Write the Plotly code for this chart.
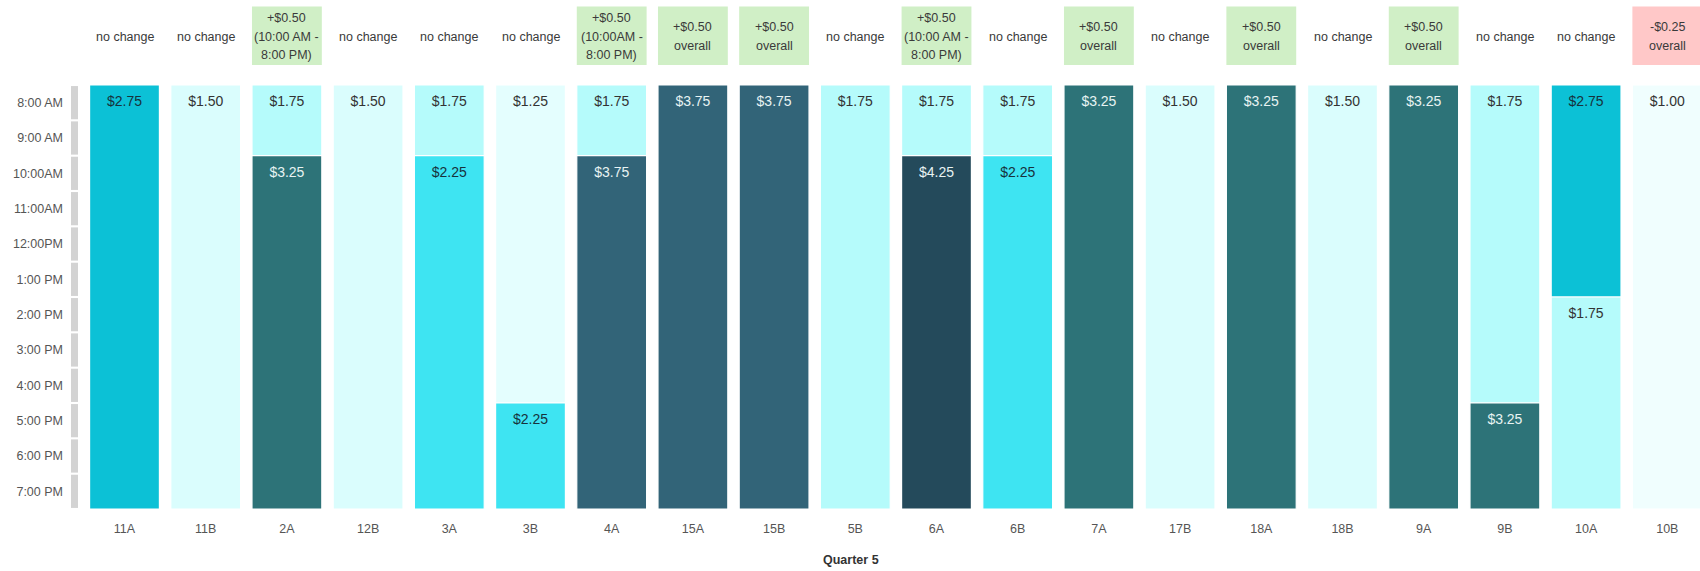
import plotly.graph_objects as go

# Stalls along the bottom axis
stalls = ['11A', '11B', '2A', '12B', '3A', '3B', '4A', '15A', '15B', '5B',
          '6A', '6B', '7A', '17B', '18A', '18B', '9A', '9B', '10A', '10B']

# Rate change note per stall (lines of the header) and its kind
change_text = [
    ['no change'], ['no change'], ['+$0.50', '(10:00 AM -', '8:00 PM)'], ['no change'],
    ['no change'], ['no change'], ['+$0.50', '(10:00AM -', '8:00 PM)'], ['+$0.50', 'overall'],
    ['+$0.50', 'overall'], ['no change'], ['+$0.50', '(10:00 AM -', '8:00 PM)'], ['no change'],
    ['+$0.50', 'overall'], ['no change'], ['+$0.50', 'overall'], ['no change'],
    ['+$0.50', 'overall'], ['no change'], ['no change'], ['-$0.25', 'overall'],
]
change_kind = ['none', 'none', 'up', 'none', 'none', 'none', 'up', 'up', 'up', 'none',
               'up', 'none', 'up', 'none', 'up', 'none', 'up', 'none', 'none', 'down']

# Hourly rate segments: stall, start hour, end hour, price
seg_stall = ['11A', '11B', '2A', '2A', '12B', '3A', '3A', '3B', '3B', '4A', '4A', '15A', '15B', '5B',
             '6A', '6A', '6B', '6B', '7A', '17B', '18A', '18B', '9A', '9B', '9B', '10A', '10A', '10B']
seg_start = [8, 8, 8, 10, 8, 8, 10, 8, 17, 8, 10, 8, 8, 8,
             8, 10, 8, 10, 8, 8, 8, 8, 8, 8, 17, 8, 14, 8]
seg_end = [20, 20, 10, 20, 20, 10, 20, 17, 20, 10, 20, 20, 20, 20,
           10, 20, 10, 20, 20, 20, 20, 20, 20, 17, 20, 14, 20, 20]
seg_price = [2.75, 1.50, 1.75, 3.25, 1.50, 1.75, 2.25, 1.25, 2.25, 1.75, 3.75, 3.75, 3.75, 1.75,
             1.75, 4.25, 1.75, 2.25, 3.25, 1.50, 3.25, 1.50, 3.25, 1.75, 3.25, 2.75, 1.75, 1.00]

# Hour rows on the vertical axis
hours = list(range(8, 20))
hour_labels = ['8:00 AM', '9:00 AM', '10:00AM', '11:00AM', '12:00PM', '1:00 PM',
               '2:00 PM', '3:00 PM', '4:00 PM', '5:00 PM', '6:00 PM', '7:00 PM']

price_color = {1.00: '#f0fefe', 1.25: '#e4fefe', 1.50: '#dafdfd', 1.75: '#b5fbfb',
               2.25: '#3ee4f2', 2.75: '#0cc1d6', 3.25: '#2d7378', 3.75: '#326478',
               4.25: '#244a5b'}


def label_color(p):
    if p >= 3.25:
        return '#e8f3f3'
    if p >= 2.25:
        return '#17323c'
    return '#333333'


FONT = 'Liberation Sans, Arial, sans-serif'
idx = {s: i for i, s in enumerate(stalls)}
xpos = [idx[s] for s in seg_stall]

fig = go.Figure()

fig.add_trace(go.Bar(
    x=xpos,
    y=[e - s for s, e in zip(seg_start, seg_end)],
    base=seg_start,
    width=0.86,
    marker=dict(color=[price_color[p] for p in seg_price],
                line=dict(color='white', width=1.2)),
    hoverinfo='skip',
    showlegend=False,
))

fig.add_trace(go.Scatter(
    x=xpos,
    y=[s + 0.5 for s in seg_start],
    mode='text',
    text=[f'${p:.2f}' for p in seg_price],
    textfont=dict(family=FONT, size=14, color=[label_color(p) for p in seg_price]),
    textposition='middle center',
    hoverinfo='skip',
    showlegend=False,
    cliponaxis=False,
))

# Plot area spans pixels 80..1700 horizontally and 85..509 vertically
plot_h = 424.0
plot_w = 1620.0


def py_to_paper(py):
    return (509.0 - py) / plot_h


def px_to_paper(px):
    return (px - 80.0) / plot_w


shapes = []
annotations = []

# Header boxes and change notes
box_fill = {'up': '#d0efc6', 'down': '#ffc8c8'}
for i, (lines, kind) in enumerate(zip(change_text, change_kind)):
    if kind in box_fill:
        shapes.append(dict(type='rect', xref='x', yref='paper',
                           x0=i - 0.43, x1=i + 0.43,
                           y0=py_to_paper(65), y1=py_to_paper(6.5),
                           fillcolor=box_fill[kind], line=dict(width=0), layer='below'))
    n = len(lines)
    for k, line in enumerate(lines):
        cy = 36.5 + (k - (n - 1) / 2) * 18.5
        annotations.append(dict(x=i, y=py_to_paper(cy), xref='x', yref='paper',
                                text=line, showarrow=False, xanchor='center', yanchor='middle',
                                font=dict(family=FONT, size=12.5, color='#3a3a3a')))

# Row header strip beside the hour labels
for h in hours:
    shapes.append(dict(type='rect', xref='paper', yref='y',
                       x0=px_to_paper(71), x1=px_to_paper(78),
                       y0=h + 0.03, y1=h + 0.97,
                       fillcolor='#d3d3d3', line=dict(width=0)))

annotations.append(dict(x=px_to_paper(851), y=py_to_paper(560), xref='paper', yref='paper',
                        text='<b>Quarter 5</b>', showarrow=False, xanchor='center', yanchor='middle',
                        font=dict(family=FONT, size=12.5, color='#333333')))

fig.update_layout(
    width=1700, height=571,
    margin=dict(l=80, r=0, t=85, b=62, pad=0),
    paper_bgcolor='white', plot_bgcolor='white',
    barmode='overlay',
    shapes=shapes,
    annotations=annotations,
    font=dict(family=FONT, size=12.5, color='#555555'),
    xaxis=dict(range=[(80 - 124.5) / 81.2, (1700 - 124.5) / 81.2],
               tickmode='array', tickvals=list(range(len(stalls))), ticktext=stalls,
               showgrid=False, zeroline=False, showline=False, ticks='',
               ticklabelstandoff=10,
               tickfont=dict(family=FONT, size=12.5, color='#555555')),
    yaxis=dict(range=[20, 8], tickmode='array',
               tickvals=[h + 0.5 for h in hours], ticktext=hour_labels,
               showgrid=False, zeroline=False, showline=False, ticks='',
               ticklabelstandoff=16,
               tickfont=dict(family=FONT, size=12.5, color='#555555')),
)

fig.write_html('out.html')
